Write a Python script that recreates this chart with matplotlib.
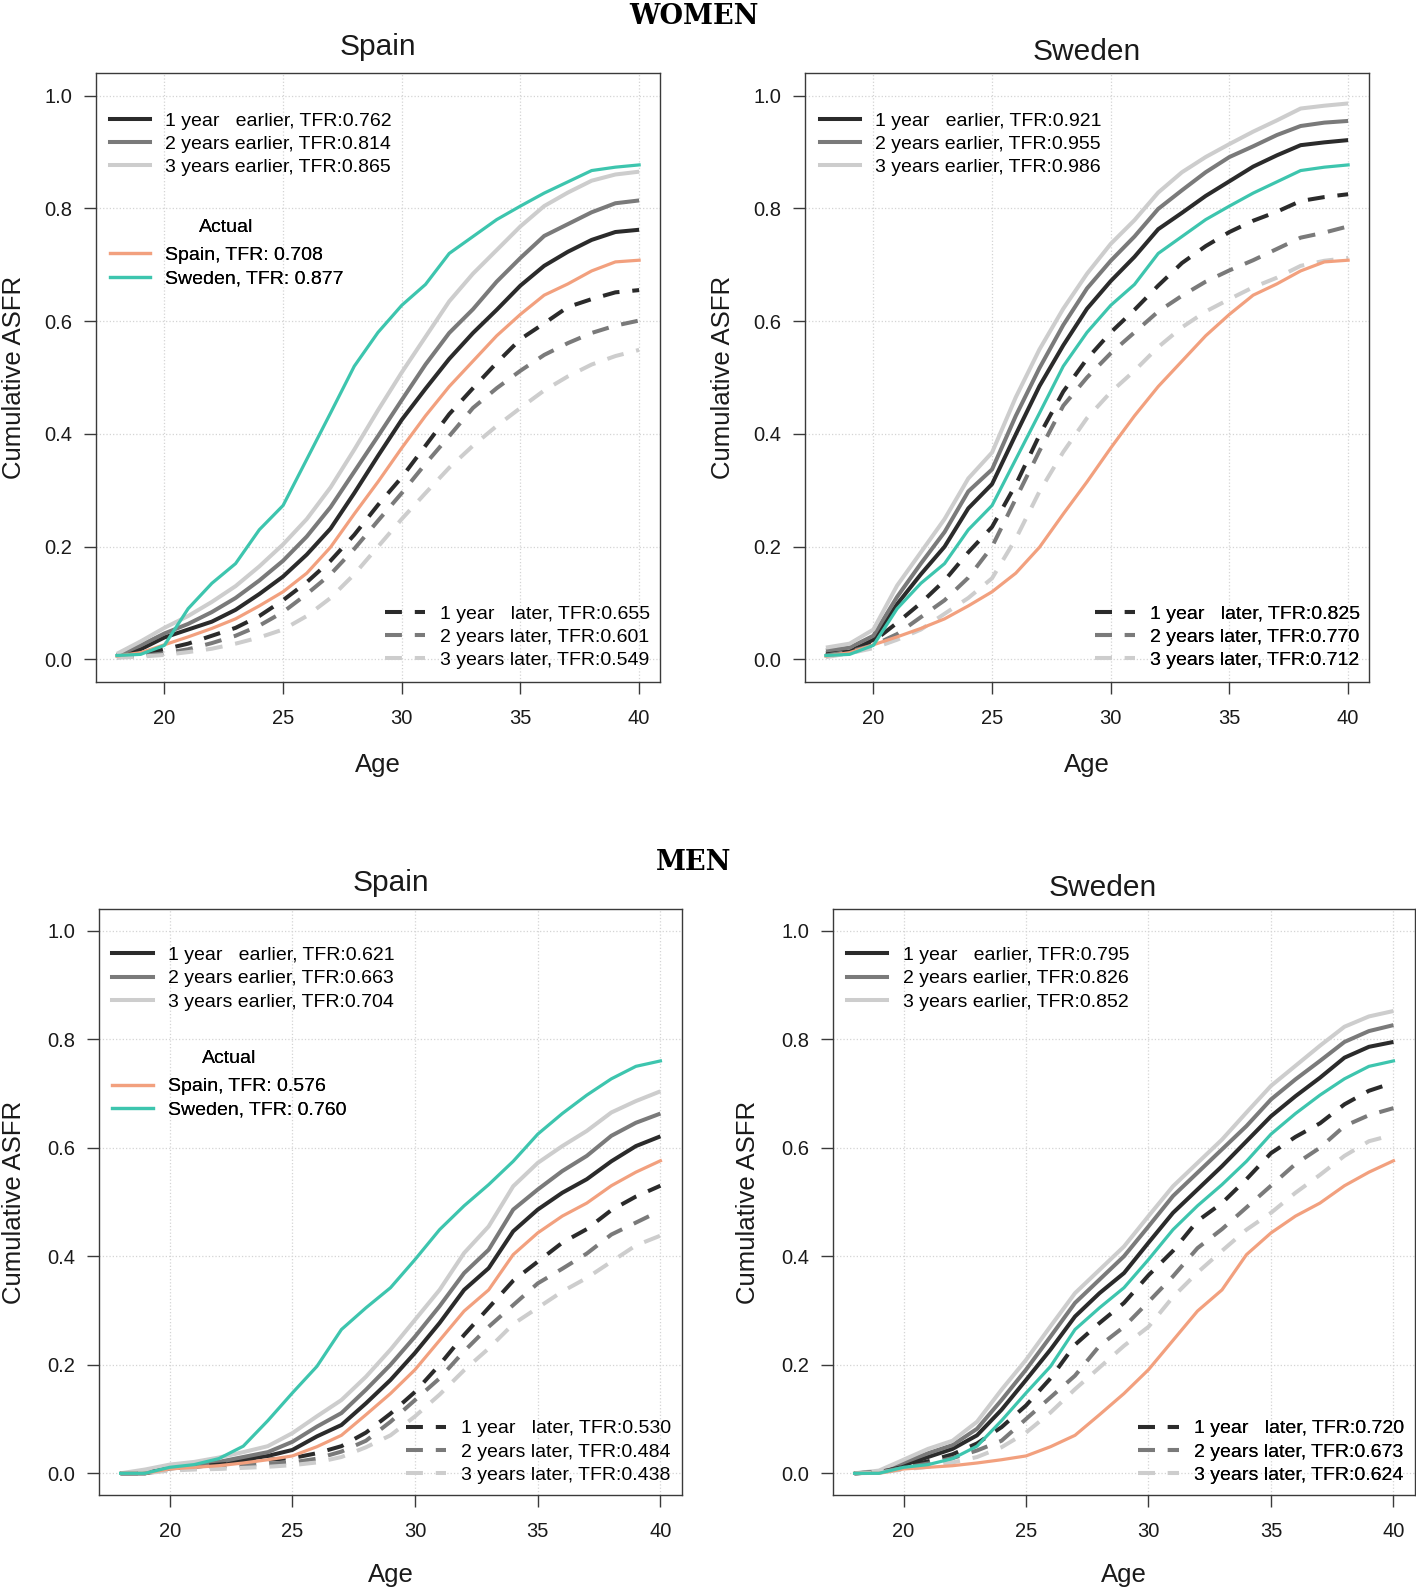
import matplotlib
matplotlib.use("Agg")
import matplotlib.pyplot as plt
from matplotlib.lines import Line2D

plt.rcParams["font.family"] = ["Liberation Sans", "DejaVu Sans"]

# ---- data -------------------------------------------------------------
ages = list(range(18, 41))

# women, actual curves (same in both panels)
w_spain_actual = [0.006, 0.012, 0.026, 0.040, 0.055, 0.072, 0.095, 0.120, 0.153, 0.199, 0.258, 0.315,
                  0.375, 0.432, 0.484, 0.529, 0.574, 0.612, 0.646, 0.666, 0.689, 0.705, 0.708]
w_sweden_actual = [0.007, 0.009, 0.025, 0.090, 0.135, 0.170, 0.230, 0.273, 0.355, 0.437, 0.520, 0.580,
                   0.628, 0.665, 0.720, 0.750, 0.780, 0.804, 0.827, 0.847, 0.867, 0.873, 0.877]

# women, Spain
ws_e1 = [0.007, 0.018, 0.039, 0.053, 0.067, 0.088, 0.116, 0.147, 0.186, 0.232, 0.295, 0.361,
         0.425, 0.480, 0.533, 0.579, 0.620, 0.663, 0.698, 0.723, 0.744, 0.758, 0.762]
ws_e2 = [0.007, 0.025, 0.046, 0.063, 0.084, 0.109, 0.140, 0.175, 0.218, 0.270, 0.333, 0.396,
         0.460, 0.523, 0.579, 0.621, 0.670, 0.712, 0.751, 0.772, 0.793, 0.809, 0.814]
ws_e3 = [0.010, 0.032, 0.056, 0.077, 0.102, 0.130, 0.165, 0.204, 0.249, 0.305, 0.372, 0.442,
         0.509, 0.572, 0.635, 0.684, 0.726, 0.768, 0.804, 0.828, 0.849, 0.860, 0.865]
ws_l1 = [0.004, 0.008, 0.018, 0.028, 0.042, 0.056, 0.077, 0.105, 0.137, 0.175, 0.221, 0.274,
         0.323, 0.379, 0.435, 0.481, 0.526, 0.568, 0.596, 0.625, 0.639, 0.651, 0.655]
ws_l2 = [0.004, 0.006, 0.011, 0.018, 0.029, 0.042, 0.060, 0.084, 0.116, 0.151, 0.196, 0.246,
         0.295, 0.347, 0.396, 0.446, 0.481, 0.512, 0.540, 0.561, 0.579, 0.592, 0.601]
ws_l3 = [0.003, 0.005, 0.008, 0.013, 0.019, 0.028, 0.039, 0.053, 0.077, 0.109, 0.151, 0.200,
         0.249, 0.295, 0.340, 0.379, 0.414, 0.446, 0.477, 0.502, 0.523, 0.538, 0.549]
ws_tfr_earlier = ["0.762", "0.814", "0.865"]
ws_tfr_later = ["0.655", "0.601", "0.549"]

# women, Sweden
wsw_e1 = [0.011, 0.014, 0.035, 0.098, 0.151, 0.200, 0.268, 0.311, 0.399, 0.485, 0.557, 0.622,
          0.671, 0.714, 0.763, 0.792, 0.822, 0.848, 0.874, 0.894, 0.912, 0.917, 0.921]
wsw_e2 = [0.016, 0.021, 0.042, 0.111, 0.170, 0.226, 0.298, 0.337, 0.432, 0.517, 0.593, 0.658,
          0.707, 0.750, 0.799, 0.832, 0.864, 0.891, 0.910, 0.930, 0.946, 0.952, 0.955]
wsw_e3 = [0.021, 0.028, 0.053, 0.131, 0.190, 0.249, 0.321, 0.367, 0.465, 0.550, 0.622, 0.684,
          0.737, 0.779, 0.828, 0.864, 0.891, 0.914, 0.936, 0.956, 0.977, 0.982, 0.986]
wsw_l1 = [0.007, 0.014, 0.032, 0.065, 0.100, 0.140, 0.190, 0.235, 0.310, 0.398, 0.475, 0.533,
          0.580, 0.620, 0.663, 0.703, 0.733, 0.758, 0.778, 0.794, 0.813, 0.820, 0.825]
wsw_l2 = [0.007, 0.014, 0.025, 0.045, 0.075, 0.105, 0.145, 0.200, 0.285, 0.370, 0.450, 0.500,
          0.543, 0.580, 0.617, 0.645, 0.670, 0.690, 0.708, 0.728, 0.748, 0.757, 0.768]
wsw_l3 = [0.004, 0.011, 0.020, 0.035, 0.053, 0.081, 0.109, 0.144, 0.214, 0.298, 0.368, 0.428,
          0.474, 0.512, 0.554, 0.589, 0.617, 0.639, 0.660, 0.677, 0.698, 0.707, 0.712]
wsw_tfr_earlier = ["0.921", "0.955", "0.986"]
wsw_tfr_later = ["0.825", "0.770", "0.712"]

# men, actual curves
m_spain_actual = [0, 0, 0.008, 0.011, 0.014, 0.019, 0.025, 0.032, 0.049, 0.070, 0.108, 0.147,
                  0.191, 0.245, 0.299, 0.338, 0.403, 0.443, 0.474, 0.498, 0.530, 0.555, 0.576]
m_sweden_actual = [0, 0, 0.011, 0.016, 0.027, 0.050, 0.097, 0.148, 0.197, 0.265, 0.305, 0.342,
                   0.394, 0.449, 0.493, 0.532, 0.575, 0.625, 0.663, 0.697, 0.727, 0.750, 0.760]

# men, Spain
ms_e1 = [0, 0, 0.009, 0.012, 0.016, 0.025, 0.032, 0.043, 0.068, 0.089, 0.129, 0.172,
         0.222, 0.277, 0.338, 0.378, 0.446, 0.486, 0.517, 0.542, 0.575, 0.603, 0.621]
ms_e2 = [0, 0, 0.011, 0.016, 0.021, 0.030, 0.039, 0.058, 0.086, 0.111, 0.154, 0.200,
         0.252, 0.308, 0.369, 0.412, 0.486, 0.523, 0.557, 0.585, 0.622, 0.646, 0.663]
ms_e3 = [0, 0.007, 0.016, 0.021, 0.029, 0.039, 0.050, 0.074, 0.105, 0.135, 0.178, 0.228,
         0.283, 0.338, 0.406, 0.455, 0.529, 0.572, 0.603, 0.631, 0.665, 0.686, 0.704]
ms_l1 = [0, 0, 0.009, 0.012, 0.016, 0.020, 0.025, 0.028, 0.037, 0.050, 0.075, 0.110,
         0.150, 0.200, 0.255, 0.305, 0.355, 0.390, 0.425, 0.450, 0.485, 0.510, 0.530]
ms_l2 = [0, 0, 0.007, 0.010, 0.012, 0.015, 0.018, 0.020, 0.027, 0.040, 0.060, 0.095,
         0.135, 0.175, 0.225, 0.270, 0.310, 0.350, 0.377, 0.405, 0.440, 0.462, 0.484]
ms_l3 = [0, 0, 0.005, 0.007, 0.008, 0.010, 0.012, 0.015, 0.020, 0.030, 0.048, 0.070,
         0.105, 0.145, 0.190, 0.230, 0.275, 0.305, 0.335, 0.360, 0.390, 0.420, 0.438]
ms_tfr_earlier = ["0.621", "0.663", "0.704"]
ms_tfr_later = ["0.530", "0.484", "0.438"]

# men, Sweden
msw_e1 = [0, 0.002, 0.015, 0.030, 0.045, 0.070, 0.117, 0.172, 0.228, 0.289, 0.332, 0.369,
          0.425, 0.480, 0.523, 0.566, 0.612, 0.658, 0.695, 0.729, 0.766, 0.786, 0.795]
msw_e2 = [0, 0.003, 0.020, 0.037, 0.052, 0.082, 0.135, 0.191, 0.252, 0.314, 0.357, 0.400,
          0.455, 0.511, 0.554, 0.597, 0.640, 0.689, 0.726, 0.760, 0.795, 0.815, 0.826]
msw_e3 = [0, 0.005, 0.025, 0.045, 0.060, 0.095, 0.154, 0.209, 0.271, 0.332, 0.375, 0.418,
          0.474, 0.529, 0.572, 0.615, 0.665, 0.714, 0.751, 0.788, 0.823, 0.842, 0.852]
msw_l1 = [0, 0.002, 0.012, 0.022, 0.035, 0.055, 0.085, 0.125, 0.175, 0.237, 0.277, 0.314,
          0.365, 0.410, 0.465, 0.498, 0.542, 0.590, 0.620, 0.645, 0.680, 0.705, 0.720]
msw_l2 = [0, 0.002, 0.010, 0.018, 0.028, 0.042, 0.060, 0.100, 0.140, 0.180, 0.235, 0.270,
          0.316, 0.363, 0.415, 0.450, 0.490, 0.530, 0.570, 0.600, 0.640, 0.660, 0.673]
msw_l3 = [0, 0.001, 0.007, 0.012, 0.020, 0.030, 0.048, 0.075, 0.112, 0.155, 0.195, 0.235,
          0.270, 0.325, 0.370, 0.410, 0.449, 0.480, 0.517, 0.550, 0.585, 0.612, 0.624]
msw_tfr_earlier = ["0.795", "0.826", "0.852"]
msw_tfr_later = ["0.720", "0.673", "0.624"]

# ---- style ------------------------------------------------------------
GRAYS = ["#2b2b2b", "#7a7a7a", "#cdcdcd"]
ORANGE = "#F2A07E"
TEAL = "#3DC5AE"
LW = 2.9
LW_ACT = 2.3
DASH = (0, (4.2, 3.2))
FS = 14

W, H = 1416, 1588


def box(left, top, right, bottom):
    return [left / W, 1 - bottom / H, (right - left) / W, (bottom - top) / H]


def draw_panel(ax, title, earlier, later, spain, sweden, tfr_e, tfr_l,
               actual_tfr=None, title_pad=10, title_x=0.5, ylabel_pad=13, xlabel_pad=18,
               leg_tl=(0.024, 0.936), leg_act=(0.024, 0.761), leg_br=(0.983, 0.021)):
    for y, c in zip(earlier, GRAYS):
        ax.plot(ages, y, color=c, lw=LW, solid_capstyle="butt")
    for y, c in zip(later, GRAYS):
        ax.plot(ages, y, color=c, lw=LW, linestyle=DASH)
    ax.plot(ages, spain, color=ORANGE, lw=LW_ACT)
    ax.plot(ages, sweden, color=TEAL, lw=LW_ACT)

    ax.set_xlim(17.12, 40.88)
    ax.set_ylim(-0.04, 1.04)
    ax.set_xticks([20, 25, 30, 35, 40])
    ax.set_yticks([0.0, 0.2, 0.4, 0.6, 0.8, 1.0])
    ax.set_yticklabels(["0.0", "0.2", "0.4", "0.6", "0.8", "1.0"])
    ax.grid(True, linestyle=":", color="#d4d4d4", lw=0.9)
    ax.set_axisbelow(True)
    for s in ax.spines.values():
        s.set_color("#3a3a3a")
        s.set_linewidth(1.0)
    ax.tick_params(length=8.6, width=1, color="#3a3a3a", pad=8.5,
                   labelsize=14.5, labelcolor="#1a1a1a")
    ax.tick_params(axis="x", pad=10.7)

    ax.set_title(title, fontsize=21.5, pad=title_pad, x=title_x, color="#1a1a1a")
    ax.set_ylabel("Cumulative ASFR", fontsize=18.5, labelpad=ylabel_pad, color="#1a1a1a")
    ax.set_xlabel("Age", fontsize=18.5, labelpad=xlabel_pad, color="#1a1a1a")

    common = dict(frameon=False, fontsize=FS, handlelength=2.08, handletextpad=0.78,
                  labelspacing=0.29, borderpad=0, borderaxespad=0)

    names = ["1 year   {}", "2 years {}", "3 years {}"]
    h_e = [Line2D([], [], color=c, lw=LW) for c in GRAYS]
    lab_e = [n.format("earlier") + ", TFR:" + t for n, t in zip(names, tfr_e)]
    leg1 = ax.legend(h_e, lab_e, loc="upper left", bbox_to_anchor=leg_tl, **common)
    ax.add_artist(leg1)

    h_l = [Line2D([], [], color=c, lw=LW, linestyle=DASH) for c in GRAYS]
    lab_l = [n.format("later") + ", TFR:" + t for n, t in zip(names, tfr_l)]
    leg2 = ax.legend(h_l, lab_l, loc="lower right", bbox_to_anchor=leg_br, **common)
    ax.add_artist(leg2)

    if actual_tfr is not None:
        h_a = [Line2D([], [], color=ORANGE, lw=LW_ACT), Line2D([], [], color=TEAL, lw=LW_ACT)]
        lab_a = ["Spain, TFR: " + actual_tfr[0], "Sweden, TFR: " + actual_tfr[1]]
        leg3 = ax.legend(h_a, lab_a, loc="upper left", bbox_to_anchor=leg_act,
                         title="Actual", title_fontsize=FS, **common)
        leg3._legend_box.sep = 8
        ax.add_artist(leg3)


fig = plt.figure(figsize=(W / 100, H / 100), dpi=100)

ax1 = fig.add_axes(box(96, 73, 660, 682))
draw_panel(ax1, "Spain", [ws_e1, ws_e2, ws_e3], [ws_l1, ws_l2, ws_l3],
           w_spain_actual, w_sweden_actual, ws_tfr_earlier, ws_tfr_later,
           actual_tfr=["0.708", "0.877"], title_pad=13)

ax2 = fig.add_axes(box(805, 73, 1369, 682))
draw_panel(ax2, "Sweden", [wsw_e1, wsw_e2, wsw_e3], [wsw_l1, wsw_l2, wsw_l3],
           w_spain_actual, w_sweden_actual, wsw_tfr_earlier, wsw_tfr_later,
           title_pad=9.3, leg_tl=(0.026, 0.936), leg_br=(0.985, 0.021))

ax3 = fig.add_axes(box(99, 909, 682, 1495))
draw_panel(ax3, "Spain", [ms_e1, ms_e2, ms_e3], [ms_l1, ms_l2, ms_l3],
           m_spain_actual, m_sweden_actual, ms_tfr_earlier, ms_tfr_later,
           actual_tfr=["0.576", "0.760"], title_pad=13, ylabel_pad=15, xlabel_pad=16,
           leg_tl=(0.023, 0.936), leg_act=(0.023, 0.760), leg_br=(0.982, 0.019))

ax4 = fig.add_axes(box(833, 909, 1415, 1495))
draw_panel(ax4, "Sweden", [msw_e1, msw_e2, msw_e3], [msw_l1, msw_l2, msw_l3],
           m_spain_actual, m_sweden_actual, msw_tfr_earlier, msw_tfr_later,
           title_pad=9.4, title_x=0.464, ylabel_pad=15, xlabel_pad=16,
           leg_tl=(0.024, 0.936), leg_br=(0.981, 0.019))

fig.text(694 / W, 1 - 16 / H, "WOMEN", ha="center", va="center",
         family="DejaVu Serif", weight="bold", fontsize=19.5)
fig.text(694 / W, 1 - 862 / H, "MEN", ha="center", va="center",
         family="DejaVu Serif", weight="bold", fontsize=19.5)

fig.savefig("out.png", dpi=100)
